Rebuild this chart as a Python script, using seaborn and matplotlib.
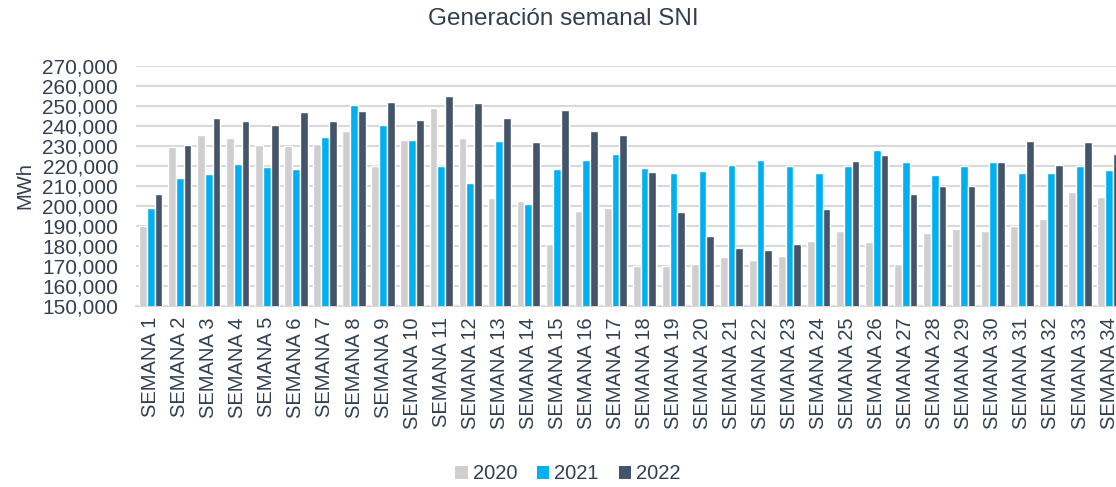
import numpy as np
import pandas as pd
import seaborn as sns
import matplotlib.pyplot as plt
from matplotlib.ticker import FuncFormatter
from matplotlib.patches import Patch

# weekly generation (MWh)
semanas = [f"SEMANA {i}" for i in range(1, 35)]
g2020 = [190000, 229700, 235300, 234200, 230700, 229800, 230800, 237700, 220000, 233000,
         248800, 233800, 204000, 202500, 181200, 197700, 199000, 170200, 170000, 171000,
         174700, 173000, 175200, 182700, 187300, 182000, 171200, 186500, 188300, 187300,
         190000, 193300, 206800, 204300]
g2021 = [199000, 214000, 216000, 221000, 219700, 218500, 234500, 250500, 240300, 232800,
         220000, 211300, 232300, 200800, 218700, 223200, 226200, 218800, 216700, 217500,
         220500, 223000, 219800, 216700, 219800, 228000, 222200, 215300, 219800, 221800,
         216700, 216300, 219800, 218200]
g2022 = [206000, 230700, 243800, 242300, 240300, 246800, 242700, 247700, 251800, 243200,
         254800, 251300, 243800, 232000, 247800, 237500, 235700, 216800, 196800, 185000,
         179000, 178200, 180800, 198300, 222700, 225300, 205800, 210200, 210200, 221800,
         232500, 220300, 232000, 225800]
anios = ["2020", "2021", "2022"]
colores = ["#D0CECE", "#00B0F0", "#44546A"]

df = pd.DataFrame({
    "semana": semanas * 3,
    "mwh": g2020 + g2021 + g2022,
    "anio": np.repeat(anios, len(semanas)),
})

sns.set_style("white")
plt.rcParams["font.family"] = ["Liberation Sans", "DejaVu Sans"]
txt = "#333F50"

fig = plt.figure(figsize=(11.16, 4.87), dpi=100)
ax = fig.add_axes([136.2 / 1116, 181 / 487, 987.4 / 1116, 240 / 487])

sns.barplot(data=df, x="semana", y="mwh", hue="anio", palette=colores,
            saturation=1, width=0.8, edgecolor="white", linewidth=1,
            ax=ax, zorder=3)

ax.set_ylim(150000, 270000)
ax.set_yticks(np.arange(150000, 270001, 10000))
ax.yaxis.set_major_formatter(FuncFormatter(lambda v, p: f"{int(v):,}"))
ax.set_xlim(-0.5, len(semanas) - 0.5)
ax.grid(axis="y", color="#D9D9D9", linewidth=1.5, zorder=0)
ax.set_axisbelow(True)
for s in ["top", "right", "left"]:
    ax.spines[s].set_visible(False)
ax.spines["bottom"].set_color("#D9D9D9")
ax.spines["bottom"].set_linewidth(1.5)

ax.tick_params(axis="y", length=0, pad=13, labelsize=15, labelcolor=txt)
ax.tick_params(axis="x", length=0, pad=8, labelsize=14.5, labelcolor=txt, rotation=90)
ax.set_xlabel("")
ax.set_ylabel("MWh", fontsize=14.5, color=txt, labelpad=6)

ax.get_legend().remove()
handles = [Patch(facecolor=c, edgecolor="none") for c in colores]
fig.legend(handles, anios, loc="center", bbox_to_anchor=(0.509, 0.027), ncol=3,
           frameon=False, fontsize=14.5, labelcolor=txt, handlelength=0.6,
           handleheight=0.6, handletextpad=0.25, columnspacing=1.0)

fig.text(0.5045, 0.962, "Generación semanal SNI", ha="center", va="center",
         fontsize=17.5, color=txt)

fig.savefig("out.png", dpi=100)
